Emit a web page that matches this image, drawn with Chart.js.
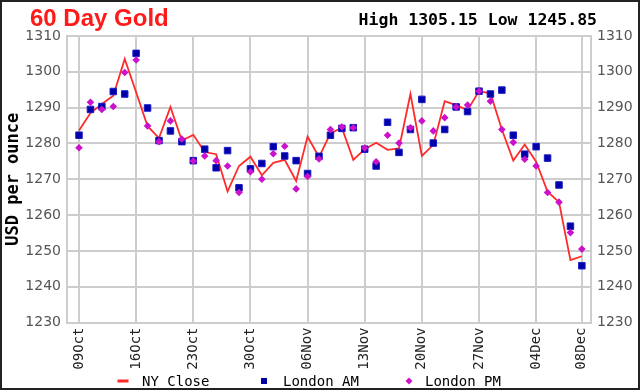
<!DOCTYPE html>
<html><head><meta charset="utf-8">
<script src="https://cdn.jsdelivr.net/npm/chart.js@4"></script>
<style>html,body{margin:0;padding:0;background:#fff}#wrap{width:640px;height:390px}</style>
</head><body><div id="wrap"><canvas id="c" width="640" height="390"></canvas></div>
<script>
// Trading days (categories)
const dates = ['09Oct','10Oct','11Oct','12Oct','13Oct','16Oct','17Oct','18Oct','19Oct','20Oct',
  '23Oct','24Oct','25Oct','26Oct','27Oct','30Oct','31Oct','01Nov','02Nov','03Nov',
  '06Nov','07Nov','08Nov','09Nov','10Nov','13Nov','14Nov','15Nov','16Nov','17Nov',
  '20Nov','21Nov','22Nov','23Nov','24Nov','27Nov','28Nov','29Nov','30Nov','01Dec',
  '04Dec','05Dec','06Dec','07Dec','08Dec'];
const tickLabels = ['09Oct','16Oct','23Oct','30Oct','06Nov','13Nov','20Nov','27Nov','04Dec','08Dec'];
const yTicks = [1230,1240,1250,1260,1270,1280,1290,1300,1310];

const nyClose = [1283.6,1288.5,1291.0,1293.3,1303.6,1294.3,1284.8,1281.5,1290.2,1280.8,
  1282.4,1277.6,1277.0,1266.6,1273.7,1276.3,1271.1,1274.6,1275.4,1269.5,
  1281.9,1276.2,1282.8,1284.4,1275.4,1278.4,1280.2,1278.2,1278.6,1293.8,
  1276.5,1279.6,1291.8,1290.7,1289.3,1294.6,1294.0,1283.9,1275.2,1279.7,
  1274.9,1266.5,1263.6,1247.4,1248.5];
const londonAM = [1282.3,1289.5,1290.3,1294.5,1293.8,1305.15,1289.9,1280.8,1283.5,1280.5,
  1275.2,1278.4,1273.2,1278.0,1267.6,1272.9,1274.4,1279.1,1276.5,1275.2,
  1271.6,1276.4,1282.3,1284.2,1284.4,1278.4,1273.7,1285.9,1277.5,1283.9,
  1292.3,1280.1,1283.9,1290.2,1288.9,1294.6,1293.8,1294.9,1282.3,1277.0,
  1279.1,1275.9,1268.4,1256.9,1245.85];
const londonPM = [1278.8,1291.5,1289.5,1290.3,1299.8,1303.3,1284.9,1280.5,1286.3,1281.2,
  1275.1,1276.5,1275.2,1273.7,1266.3,1272.1,1270.0,1277.1,1279.2,1267.3,
  1270.8,1275.7,1283.9,1284.6,1284.4,1278.7,1274.9,1282.3,1280.1,1284.4,
  1286.3,1283.5,1287.2,1290.2,1290.7,1294.6,1291.8,1283.9,1280.3,1275.6,
  1273.7,1266.3,1263.6,1255.1,1250.5];

const tickPositions = tickLabels.map(l => dates.indexOf(l));
const toPts = arr => arr.map((v, i) => ({x: i, y: v}));
const allVals = nyClose.concat(londonAM, londonPM);
const highVal = Math.max(...allVals), lowVal = Math.min(...allVals);

const MONO = '"DejaVu Sans Mono", monospace';
const GRID = '#cdcdcd';

const decor = {
  id: 'decor',
  beforeDraw(chart) {
    const ctx = chart.ctx;
    ctx.save(); ctx.fillStyle = '#fff'; ctx.fillRect(0, 0, chart.width, chart.height); ctx.restore();
  },
  afterDraw(chart) {
    const ctx = chart.ctx;
    ctx.save();
    ctx.textBaseline = 'alphabetic';
    ctx.fillStyle = '#ff1a1a';
    ctx.font = 'bold 24px "Liberation Sans", Arial, sans-serif';
    ctx.textAlign = 'left';
    ctx.fillText('60 Day Gold', 30, 26);
    ctx.fillStyle = '#000';
    ctx.font = 'bold 16.5px ' + MONO;
    ctx.textAlign = 'right';
    ctx.fillText('High ' + highVal.toFixed(2) + ' Low ' + lowVal.toFixed(2), 597, 25);
    // legend
    const ly = 381;
    const items = [{mx: 123, tx: 142}, {mx: 264, tx: 283}, {mx: 409, tx: 425}];
    ctx.font = '14px ' + MONO;
    ctx.textAlign = 'left';
    ctx.textBaseline = 'middle';
    chart.data.datasets.forEach((ds, i) => {
      const it = items[i];
      if (i === 0) {
        ctx.fillStyle = ds.borderColor;
        ctx.fillRect(it.mx - 5.5, ly - 1.5, 11, 3);
      } else if (ds.pointStyle === 'rect') {
        ctx.fillStyle = ds.pointBackgroundColor;
        ctx.fillRect(it.mx - 3, ly - 3, 6, 6);
      } else {
        ctx.fillStyle = ds.pointBackgroundColor;
        ctx.beginPath();
        ctx.moveTo(it.mx, ly - 3.5); ctx.lineTo(it.mx + 3.5, ly);
        ctx.lineTo(it.mx, ly + 3.5); ctx.lineTo(it.mx - 3.5, ly); ctx.closePath(); ctx.fill();
      }
      ctx.fillStyle = '#000';
      ctx.fillText(ds.label, it.tx, ly + 1);
    });
    // frame
    ctx.strokeStyle = '#222'; ctx.lineWidth = 2;
    ctx.strokeRect(1, 1, chart.width - 2, chart.height - 2);
    ctx.restore();
  }
};

const yCommon = {
  min: 1230, max: 1310,
  afterBuildTicks: s => { s.ticks = yTicks.map(v => ({value: v})); },
  ticks: {padding: 6, color: '#555', font: {family: '"DejaVu Sans", sans-serif', size: 14},
    callback: v => String(v)},
  border: {color: GRID, width: 2}
};

new Chart(document.getElementById('c'), {
  type: 'line',
  data: {
    datasets: [
      {label: 'NY Close', data: toPts(nyClose), borderColor: '#ff2a2a', borderWidth: 1.8,
       pointRadius: 0, tension: 0, fill: false, order: 3},
      {label: 'London AM', data: toPts(londonAM), showLine: false, pointStyle: 'rect',
       pointRadius: 4.6, pointBackgroundColor: '#0000a8', pointBorderColor: '#1a1ac8',
       pointBorderWidth: 1, borderColor: '#0000a8', order: 2},
      {label: 'London PM', data: toPts(londonPM), showLine: false, pointStyle: 'rectRot',
       pointRadius: 3.8, pointBackgroundColor: '#cc11cc', pointBorderWidth: 0,
       borderColor: '#cc11cc', order: 1}
    ]
  },
  options: {
    responsive: false, animation: false, devicePixelRatio: 1,
    layout: {padding: {left: 0, right: 0, top: 36, bottom: 0}},
    plugins: {legend: {display: false}, tooltip: {enabled: false}},
    scales: {
      x: {
        type: 'linear', min: -1.05, max: 44.8,
        afterBuildTicks: s => { s.ticks = tickPositions.map(v => ({value: v})); },
        afterFit: s => { s.height = 67.5; },
        grid: {color: GRID, lineWidth: 2, drawTicks: false},
        border: {color: GRID, width: 2},
        ticks: {autoSkip: false, maxRotation: 90, minRotation: 90, padding: 5, color: '#222',
          font: {family: MONO, size: 14}, callback: v => dates[v]}
      },
      y: Object.assign({}, yCommon, {
        position: 'left',
        afterFit: s => { s.width = 67; },
        grid: {color: GRID, lineWidth: 2, drawTicks: false},
        title: {display: true, text: 'USD per ounce', color: '#000',
          font: {family: MONO, weight: 'bold', size: 17}, padding: {top: 3, bottom: 0}}
      }),
      y2: Object.assign({}, yCommon, {
        position: 'right',
        afterFit: s => { s.width = 49; },
        grid: {display: false, drawTicks: false}
      })
    }
  },
  plugins: [decor]
});
</script>
</body></html>
